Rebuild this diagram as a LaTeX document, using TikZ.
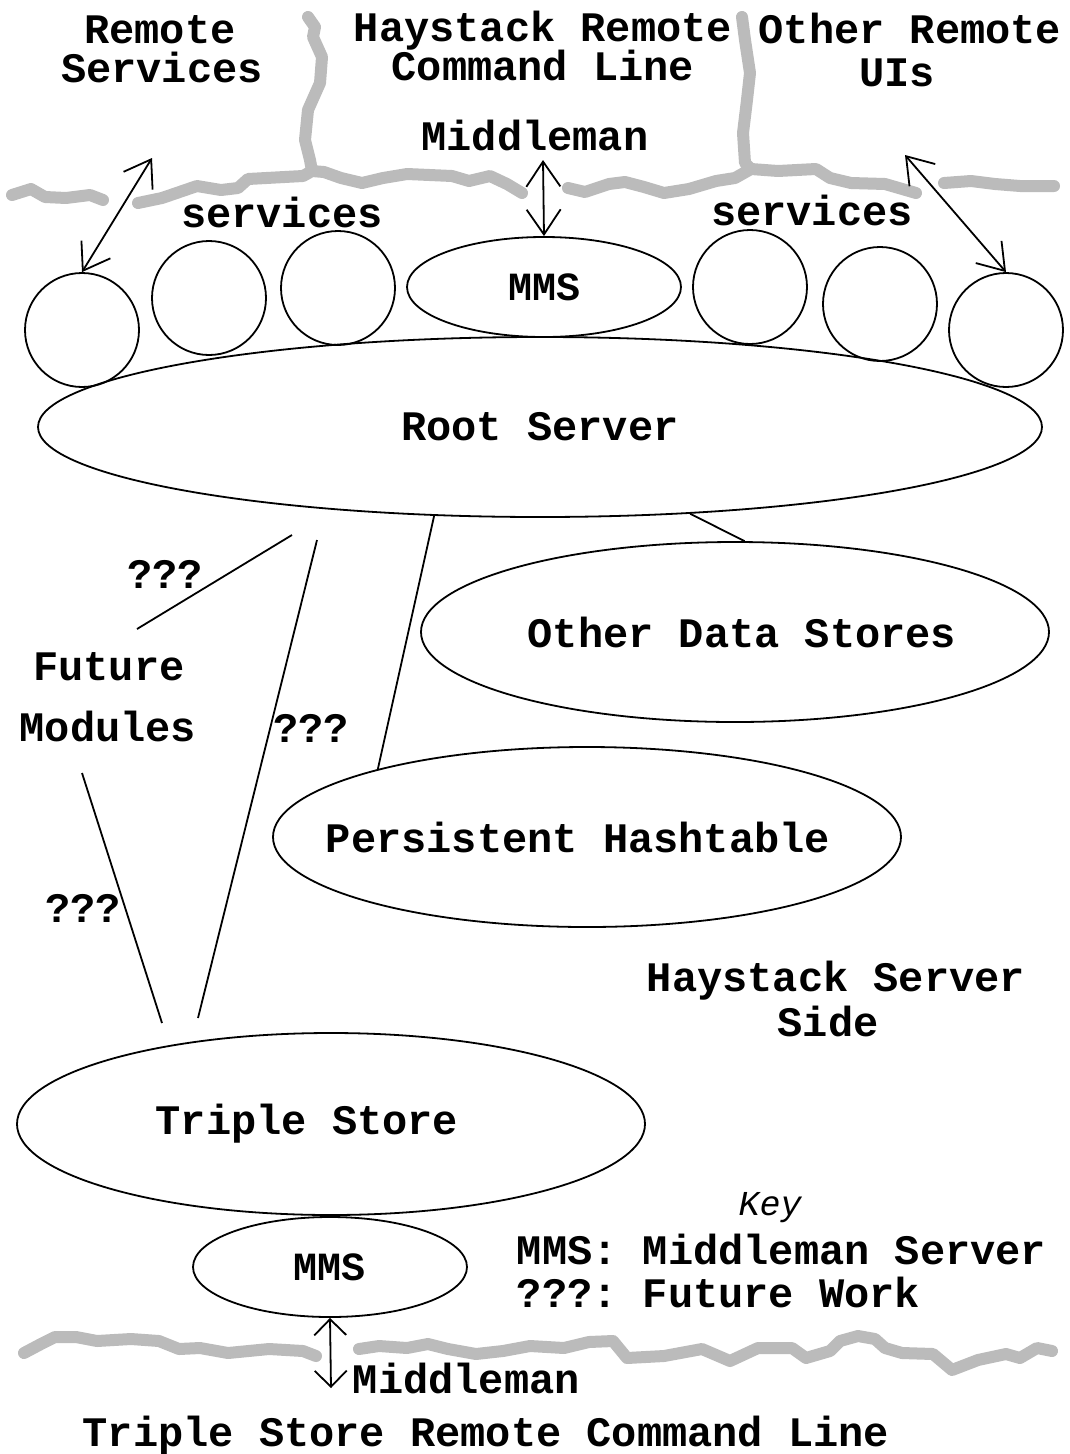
\documentclass[tikz,border=0pt]{standalone}
\usepackage{fontspec}
\setmonofont{Liberation Mono}
\usetikzlibrary{arrows.meta,shapes.geometric}
\definecolor{wallgray}{HTML}{BBBBBB}
\tikzset{
	txt/.style={font=\ttfamily\bfseries\fontsize{42}{42}\selectfont, inner sep=0pt, anchor=base},
	svc/.style={draw, circle, minimum size=114pt, inner sep=0pt},
	blob/.style={draw, ellipse, inner sep=0pt, font=\ttfamily\bfseries\fontsize{42}{42}\selectfont},
	wall/.style={wallgray, line width=12pt, line cap=round, line join=round},
	dbl/.style={arrows={Straight Barb[length=25pt,width=34pt]-Straight Barb[length=25pt,width=34pt]}},
	dblsmall/.style={arrows={Straight Barb[length=16pt,width=32pt]-Straight Barb[length=16pt,width=32pt]}},
}

\begin{document}
\begin{tikzpicture}[x=1pt,y=-1pt,line width=1.8pt]
		\useasboundingbox (0,0) rectangle (1070,1454);
		% walls
		\draw[wall] (12,195)--(31,189)--(45,197)--(66,198)--(90,195)--(103,200);
		\draw[wall] (138,203)--(162,198)--(197,186)--(221,190)--(238,188)--(248,179)--(303,176)--(312,171)--(324,172)--(341,178)--(362,183)--(383,178)--(407,174)--(452,176)--(469,181)--(490,176)--(507,184)--(522,193);
		\draw[wall] (312,171)--(310,160)--(305,140)--(308,110)--(320,83)--(322,57)--(313,37)--(315,27)--(308,17);
		\draw[wall] (568,188)--(585,192)--(609,184)--(625,182)--(644,187)--(664,193)--(689,189)--(716,181)--(735,178)--(751,169)--(778,171)--(816,169)--(830,178)--(851,183)--(885,184)--(916,193);
		\draw[wall] (751,169)--(745,163)--(743,133)--(747,100)--(750,73)--(745,40)--(742,17);
		\draw[wall] (944,183)--(971,181)--(995,184)--(1020,186)--(1054,186);
		\draw[wall] (24,1353)--(41,1344)--(55,1337)--(76,1337)--(97,1341)--(131,1339)--(159,1341)--(179,1349)--(200,1348)--(228,1353)--(269,1349)--(303,1351)--(316,1356);
		\draw[wall] (359,1349)--(379,1346)--(407,1348)--(428,1344)--(448,1349)--(476,1354)--(503,1351)--(530,1346)--(564,1348)--(589,1342)--(613,1341)--(627,1358)--(664,1356)--(702,1349)--(730,1361)--(758,1348)--(792,1348)--(806,1358)--(830,1351)--(840,1341)--(858,1336)--(875,1339)--(885,1348)--(902,1353)--(933,1354)--(952,1370)--(978,1360)--(1006,1354)--(1020,1358)--(1037,1348)--(1052,1351);

		% remote side
		\node[txt] (rs1) at (160,43) {Remote};
		\node[txt] (rs2) at (162,82) {Services};
		\node[txt] (hc1) at (543,41) {Haystack Remote};
		\node[txt] (hc2) at (543,80) {Command Line};
		\node[txt] (ou1) at (910,43) {Other Remote};
		\node[txt] (ou2) at (897,86) {UIs};
		\node[txt] (mid) at (535,150) {Middleman};

		% services
		\node[svc] (c1) at (82,330) {};
		\node[svc] (c2) at (209,298) {};
		\node[svc] (c3) at (338,288) {};
		\node[svc] (c4) at (750,287) {};
		\node[svc] (c5) at (880,304) {};
		\node[svc] (c6) at (1006,330) {};
		\node[txt] (sv1) at (282,227) {services};
		\node[txt] (sv2) at (812,225) {services};
		\node[blob, minimum width=274pt, minimum height=100pt, font=\ttfamily\bfseries\fontsize{40}{40}\selectfont] (mmst) at (544,287) {MMS};

		% server side
		\node[blob, minimum width=1004pt, minimum height=180pt] (root) at (540,427) {Root Server};
		\node[blob, minimum width=628pt, minimum height=180pt] (ods) at (735,632) {\makebox[0pt]{\hspace*{14pt}Other Data Stores}};
		\node[blob, minimum width=628pt, minimum height=180pt] (pht) at (587,837) {\makebox[0pt]{Persistent Hashtable\hspace*{18pt}}};
		\node[blob, minimum width=628pt, minimum height=182pt] (ts) at (331,1124) {\makebox[0pt]{Triple Store\hspace*{48pt}}};
		\node[blob, minimum width=274pt, minimum height=100pt, font=\ttfamily\bfseries\fontsize{40}{40}\selectfont] (mmsb) at (330,1267) {MMS};

		\node[txt] (fm1) at (109,680) {Future};
		\node[txt] (fm2) at (108,741) {Modules};
		\node[txt] (q1) at (165,588) {???};
		\node[txt] (q2) at (311,742) {???};
		\node[txt] (q3) at (83,922) {???};
		\node[txt] (hs1) at (836,991) {Haystack Server};
		\node[txt] (hs2) at (828,1036) {Side};

		% key
		\node[txt, font=\ttfamily\itshape\fontsize{35}{35}\selectfont] (key) at (770,1215) {Key};
		\node[txt, anchor=base west] (k1) at (516,1264) {MMS: Middleman Server};
		\node[txt, anchor=base west] (k2) at (516,1307) {???: Future Work};
		\node[txt, anchor=base west] (mid3) at (352,1393) {Middleman};
		\node[txt] (tsc) at (486,1446) {Triple Store Remote Command Line};

		% connectors
		\draw (root.-30) -- (ods.84);
		\draw (root.-140) -- (pht.162);
		\coordinate (qa1) at (137,629);
		\coordinate (qa2) at (292,535);
		\coordinate (qb1) at (317,540);
		\coordinate (qb2) at (198,1018);
		\coordinate (qc1) at (82,773);
		\coordinate (qc2) at (162,1023);
		\draw (qa1) -- (qa2);
		\draw (qb1) -- (qb2);
		\draw (qc1) -- (qc2);

		% arrows
		\coordinate (rsv) at (152,158);
		\coordinate (mw) at (543,160);
		\coordinate (oui) at (905,155);
		\coordinate (mwb) at (331,1388);
		\draw[dbl] (rsv) -- (c1.north);
		\draw[dbl] (mw) -- (mmst.north);
		\draw[dbl] (oui) -- (c6.north);
		\draw[dblsmall] (mmsb.south) -- (mwb);
	\end{tikzpicture}
\end{document}
